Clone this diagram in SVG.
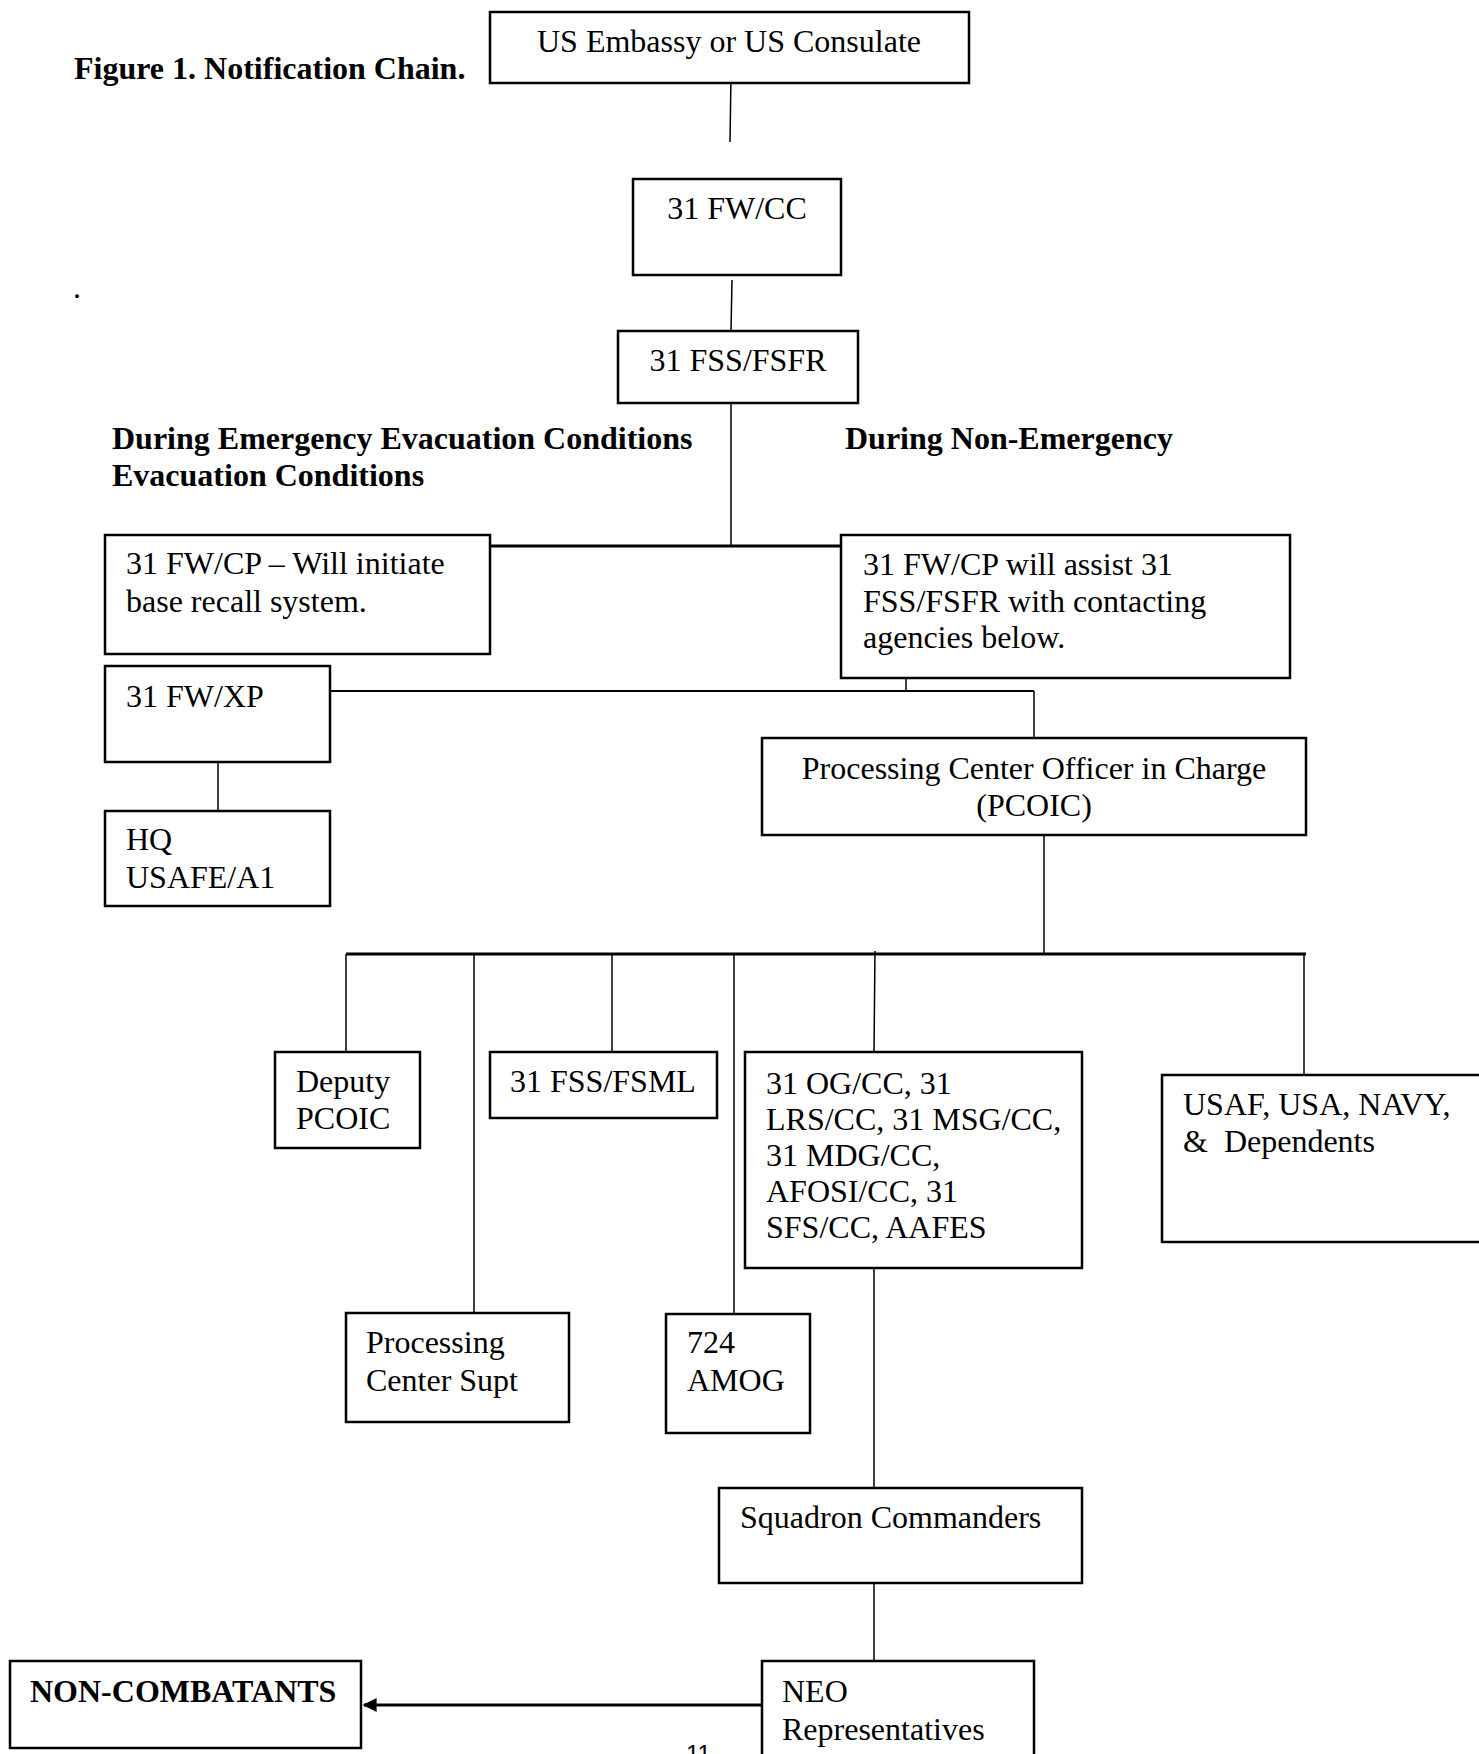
<svg xmlns="http://www.w3.org/2000/svg" width="1479" height="1754" viewBox="0 0 1479 1754">
<defs>
<style>
.box{fill:#fff;stroke:#000;stroke-width:2.5}
.t{font-family:"Liberation Serif","Times New Roman",serif;font-size:32px;fill:#000}
.b{font-family:"Liberation Serif","Times New Roman",serif;font-size:32px;font-weight:bold;fill:#000}
.c{text-anchor:middle}
.ln{fill:none;stroke:#000;stroke-width:1.5}
.thick{fill:none;stroke:#000;stroke-width:2.8}
</style>
<marker id="ah" viewBox="0 0 10 10" refX="9" refY="5" markerWidth="5" markerHeight="5" orient="auto" markerUnits="strokeWidth">
<path d="M0,0 L10,5 L0,10 z" fill="#000"/>
</marker>
</defs>
<rect width="1479" height="1754" fill="#fff"/>
<text class="b" x="74" y="79">Figure 1. Notification Chain.</text>
<text class="t" x="73" y="298">.</text>
<text class="b" x="112" y="449">During Emergency Evacuation Conditions</text>
<text class="b" x="112" y="486">Evacuation Conditions</text>
<text class="b" x="845" y="449">During Non-Emergency</text>
<text x="686" y="1762" font-family="Liberation Sans, Arial, sans-serif" font-size="24">11</text>

<g id="connectors">
<path class="ln" d="M731,75 L730,142"/>
<path class="ln" d="M732,280 L731,331"/>
<path class="ln" d="M731,399 L731,546"/>
<path class="thick" d="M490,546 L841,546"/>
<path class="ln" d="M906,678 L906,691"/>
<path class="ln" style="stroke-width:2" d="M330,691 L1034,691"/>
<path class="ln" d="M1034,691 L1034,738"/>
<path class="ln" d="M218,762 L218,811"/>
<path class="ln" d="M1044,832 L1044,954"/>
<path class="thick" d="M346,954 L1306,954"/>
<path class="ln" d="M346,954 L346,1052"/>
<path class="ln" d="M474,954 L474,1313"/>
<path class="ln" d="M612,954 L612,1052"/>
<path class="ln" d="M734,954 L734,1314"/>
<path class="ln" d="M875,951 L874,1052"/>
<path class="ln" d="M1304,954 L1304,1075"/>
<path class="ln" d="M874,1268 L874,1488"/>
<path class="ln" d="M874,1583 L874,1661"/>
<path class="thick" d="M762,1705 L364,1705" marker-end="url(#ah)"/>
</g>

<g id="embassy"><rect class="box" x="490" y="12" width="479" height="71"/>
<text class="t c" x="729" y="52">US Embassy or US Consulate</text></g>
<g id="fwcc"><rect class="box" x="633" y="179" width="208" height="96"/>
<text class="t c" x="737" y="219">31 FW/CC</text></g>
<g id="fssfsfr"><rect class="box" x="618" y="331" width="240" height="72"/>
<text class="t c" x="738" y="371">31 FSS/FSFR</text></g>
<g id="cp-emergency"><rect class="box" x="105" y="535" width="385" height="119"/>
<text class="t" x="126" y="574">31 FW/CP – Will initiate</text>
<text class="t" x="126" y="612">base recall system.</text></g>
<g id="cp-nonemergency"><rect class="box" x="841" y="535" width="449" height="143"/>
<text class="t" x="863" y="575">31 FW/CP will assist 31</text>
<text class="t" x="863" y="612">FSS/FSFR with contacting</text>
<text class="t" x="863" y="648">agencies below.</text></g>
<g id="fwxp"><rect class="box" x="105" y="666" width="225" height="96"/>
<text class="t" x="126" y="707">31 FW/XP</text></g>
<g id="hq"><rect class="box" x="105" y="811" width="225" height="95"/>
<text class="t" x="126" y="850">HQ</text>
<text class="t" x="126" y="888">USAFE/A1</text></g>
<g id="pcoic"><rect class="box" x="762" y="738" width="544" height="97"/>
<text class="t c" x="1034" y="779">Processing Center Officer in Charge</text>
<text class="t c" x="1034" y="816">(PCOIC)</text></g>
<g id="deputy"><rect class="box" x="275" y="1052" width="145" height="96"/>
<text class="t" x="296" y="1092">Deputy</text>
<text class="t" x="296" y="1129">PCOIC</text></g>
<g id="pcs"><rect class="box" x="346" y="1313" width="223" height="109"/>
<text class="t" x="366" y="1353">Processing</text>
<text class="t" x="366" y="1391">Center Supt</text></g>
<g id="fsml"><rect class="box" x="490" y="1052" width="227" height="66"/>
<text class="t" x="510" y="1092">31 FSS/FSML</text></g>
<g id="amog"><rect class="box" x="666" y="1314" width="144" height="119"/>
<text class="t" x="687" y="1353">724</text>
<text class="t" x="687" y="1391">AMOG</text></g>
<g id="ogcc"><rect class="box" x="745" y="1052" width="337" height="216"/>
<text class="t" x="766" y="1094">31 OG/CC, 31</text>
<text class="t" x="766" y="1130">LRS/CC, 31 MSG/CC,</text>
<text class="t" x="766" y="1166">31 MDG/CC,</text>
<text class="t" x="766" y="1202">AFOSI/CC, 31</text>
<text class="t" x="766" y="1238">SFS/CC, AAFES</text></g>
<g id="usaf"><rect class="box" x="1162" y="1075" width="330" height="167"/>
<text class="t" x="1183" y="1115">USAF, USA, NAVY,</text>
<text class="t" x="1183" y="1152" xml:space="preserve">&amp;  Dependents</text></g>
<g id="squadron"><rect class="box" x="719" y="1488" width="363" height="95"/>
<text class="t" x="740" y="1528">Squadron Commanders</text></g>
<g id="neo"><rect class="box" x="762" y="1661" width="272" height="120"/>
<text class="t" x="782" y="1702">NEO</text>
<text class="t" x="782" y="1740">Representatives</text></g>
<g id="noncombatants"><rect class="box" x="10" y="1661" width="351" height="87"/>
<text class="b" x="30" y="1702">NON-COMBATANTS</text></g>
</svg>
